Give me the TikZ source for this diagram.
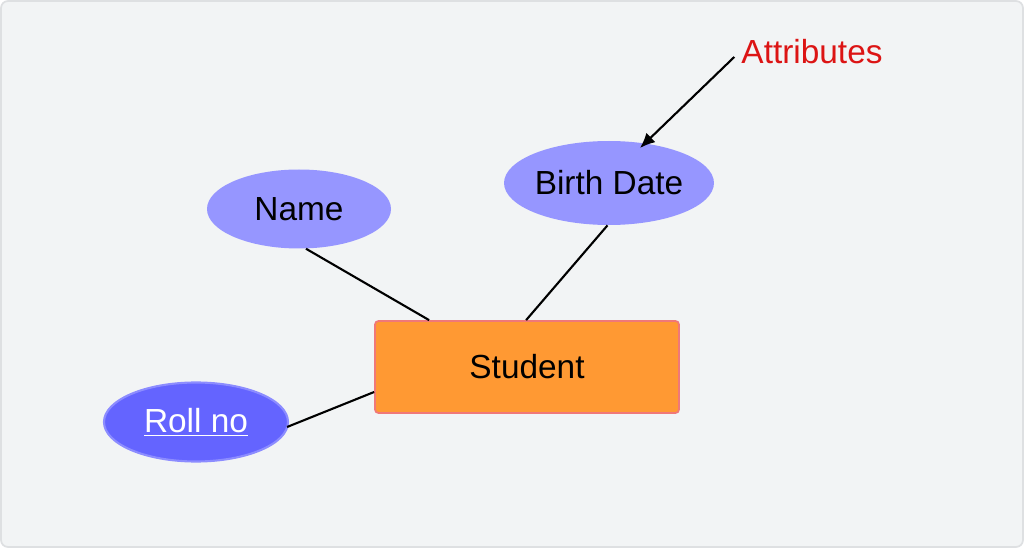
\documentclass[tikz,border=0pt]{standalone}
\usepackage{fontspec}
\setmainfont{Liberation Sans}
\usetikzlibrary{shapes.geometric,calc,arrows.meta}
\begin{document}
\begin{tikzpicture}
            \tikzstyle{attr}=[ellipse, fill=blue!40, inner sep=0pt, minimum width=3.68cm, minimum height=1.58cm, font=\fontsize{19}{22}\selectfont]
            \tikzstyle{link}=[line width=1.2pt]
            \useasboundingbox (0,0) rectangle (20.48,10.96);
            \draw[fill={rgb,255:red,242;green,244;blue,245}, draw={rgb,255:red,222;green,224;blue,226}, line width=1pt, rounded corners=4pt] (0.02,0.02) rectangle (20.46,10.94);
            \node[attr, fill={rgb,255:red,150;green,150;blue,255}] (Name) at (5.98,6.78) {Name};
            \node[attr, fill={rgb,255:red,150;green,150;blue,255}, minimum height=1.68cm] (Birth) at (12.18,7.30) {Birth Date};
            \node[attr, fill={rgb,255:red,100;green,100;blue,255}, draw={rgb,255:red,140;green,140;blue,255}, line width=1.2pt, text=white] (Roll) at (3.92,2.52) {\underline{Roll no}};
            \node[draw={rgb,255:red,240;green,120;blue,120}, fill={rgb,255:red,255;green,153;blue,51}, line width=1pt, rounded corners=2pt, minimum width=6.08cm, minimum height=1.84cm, font=\fontsize{19}{22}\selectfont] (Student) at (10.54,3.62) {Student};
            \node[text={rgb,255:red,220;green,20;blue,20}, font=\fontsize{19}{22}\selectfont] (Attr) at (16.24,9.92) {Attributes};
            \draw[link] (Name.-80) -- ($(Student.north west)+(1.1,0)$);
            \draw[link] (Birth.-92) -- ($(Student.north west)+(3.04,0)$);
            \draw[link] (Roll.east) ++(-0.04,-0.1) -- ($(Student.west)+(0,-0.5)$);
            \coordinate (tip) at (12.8,8.0);
            \draw[link, -{Latex[length=3mm,width=2.6mm]}] (Attr.west) ++(-0.02,-0.1) -- (tip);
\end{tikzpicture}
\end{document}
